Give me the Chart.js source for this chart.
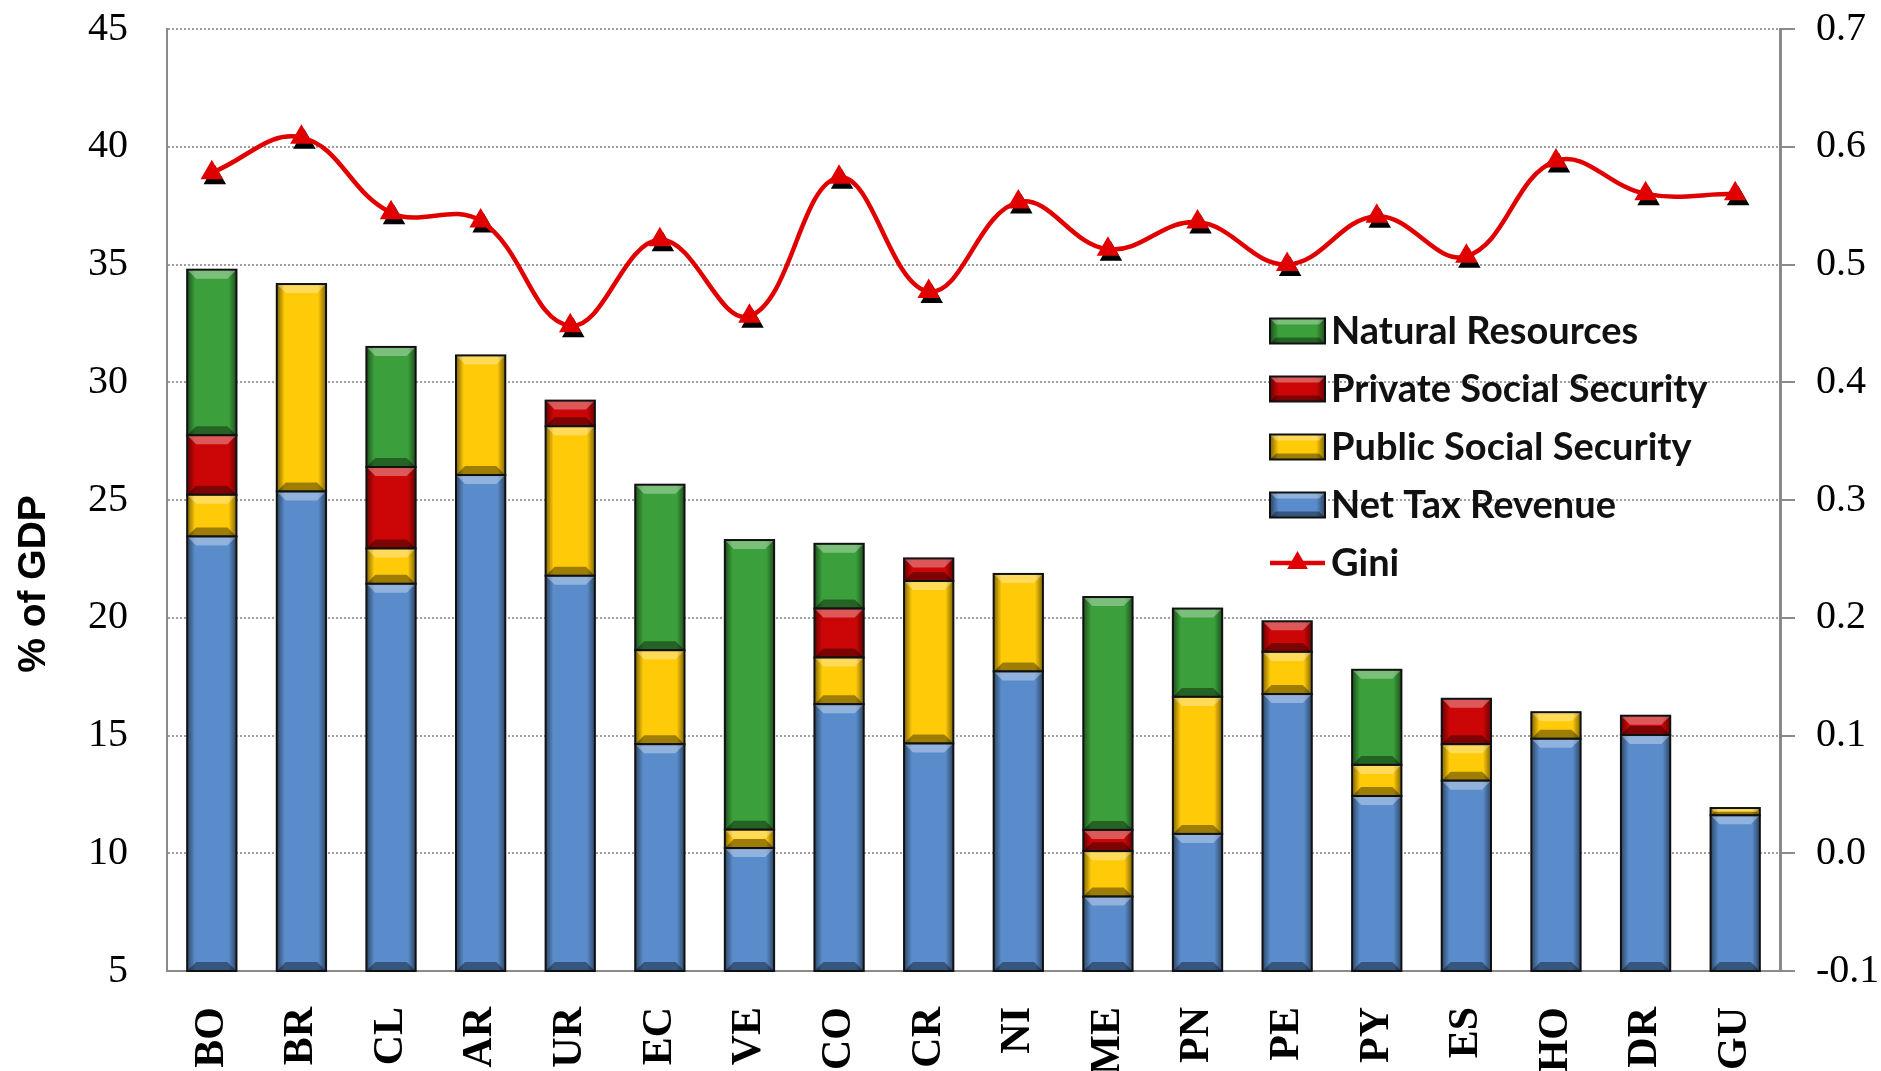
<!DOCTYPE html>
<html>
<head>
<meta charset="utf-8">
<script src="https://cdn.jsdelivr.net/npm/chart.js@4.4.1/dist/chart.umd.min.js"></script>
<style>
  html, body { margin: 0; padding: 0; background: #fff; }
  #wrap { width: 1881px; height: 1071px; position: relative; }
</style>
</head>
<body>
<div id="wrap"><canvas id="c"></canvas></div>
<script>
// Country codes along the x axis
const categories = ['BO','BR','CL','AR','UR','EC','VE','CO','CR','NI','ME','PN','PE','PY','ES','HO','DR','GU'];

// Revenue components, % of GDP (stacked bottom to top)
const netTaxRevenue        = [23.45, 25.36, 21.44, 26.06, 21.78, 14.63, 10.22, 16.33, 14.66, 17.72, 8.16, 10.82, 16.76, 12.43, 13.08, 14.86, 15.02, 11.61];
const publicSocialSecurity = [1.77, 8.81, 1.50, 5.08, 6.35, 3.99, 0.78, 1.98, 6.90, 4.14, 1.93, 5.82, 1.79, 1.32, 1.55, 1.13, 0, 0.31];
const privateSocialSecurity= [2.53, 0, 3.46, 0, 1.09, 0, 0, 2.08, 0.96, 0, 0.90, 0, 1.30, 0, 1.93, 0, 0.82, 0];
const naturalResources     = [7.03, 0, 5.10, 0, 0, 7.03, 12.30, 2.75, 0, 0, 9.89, 3.75, 0, 4.04, 0, 0, 0, 0];

// Gini coefficient (right axis)
const gini = [0.578, 0.608, 0.544, 0.537, 0.448, 0.521, 0.456, 0.574, 0.477, 0.553, 0.513, 0.536, 0.500, 0.541, 0.507, 0.588, 0.560, 0.560];

const yTitle = '% of GDP';

const COLORS = {
  blue: '#5A8CCB',
  yellow: '#FFCA08',
  red: '#CC0606',
  green: '#3BA03B',
  gini: '#E00000'
};

// Beveled look for a filled rectangle: darker sides, light top edge, dark bottom edge, black outline
function bevelOverlay(ctx, l, top, w, h, b) {
  const r = l + w, bot = top + h;
  const g = ctx.createLinearGradient(l, 0, r, 0);
  g.addColorStop(0, 'rgba(0,0,0,0.50)');
  g.addColorStop(0.16, 'rgba(0,0,0,0)');
  g.addColorStop(0.84, 'rgba(0,0,0,0)');
  g.addColorStop(1, 'rgba(0,0,0,0.50)');
  ctx.fillStyle = g;
  ctx.fillRect(l, top, w, h);
  ctx.fillStyle = 'rgba(255,255,255,0.33)';
  ctx.beginPath();
  ctx.moveTo(l, top); ctx.lineTo(r, top); ctx.lineTo(r - b, top + b); ctx.lineTo(l + b, top + b);
  ctx.closePath(); ctx.fill();
  ctx.fillStyle = 'rgba(0,0,0,0.38)';
  ctx.beginPath();
  ctx.moveTo(l, bot); ctx.lineTo(r, bot); ctx.lineTo(r - b, bot - b); ctx.lineTo(l + b, bot - b);
  ctx.closePath(); ctx.fill();
  ctx.lineWidth = 2;
  ctx.strokeStyle = '#111';
  ctx.strokeRect(l, top, w, h);
}

function trianglePath(ctx, x, y, rad) {
  ctx.beginPath();
  for (let k = 0; k < 3; k++) {
    const a = k * 2 * Math.PI / 3;
    const px = x + Math.sin(a) * rad, py = y - Math.cos(a) * rad;
    if (k === 0) ctx.moveTo(px, py); else ctx.lineTo(px, py);
  }
  ctx.closePath();
}

const MARKER_R = 13;

const bevelPlugin = {
  id: 'bevelBars',
  afterDatasetDraw(chart, args) {
    const ds = chart.data.datasets[args.index];
    if (ds.type === 'line') return;
    const ctx = chart.ctx, area = chart.chartArea;
    ctx.save();
    args.meta.data.forEach((bar, i) => {
      if (!ds.data[i]) return;
      const p = bar.getProps(['x', 'y', 'base', 'width'], true);
      const top = Math.max(Math.min(p.y, p.base), area.top);
      const bot = Math.min(Math.max(p.y, p.base), area.bottom);
      const h = bot - top;
      if (h < 0.5) return;
      const b = Math.min(9, h / 2, p.width / 4);
      bevelOverlay(ctx, p.x - p.width / 2, top, p.width, h, b);
    });
    ctx.restore();
  },
  beforeDatasetDraw(chart, args) {
    const ds = chart.data.datasets[args.index];
    if (ds.type !== 'line') return;
    // dark drop shadow under each triangle marker
    const ctx = chart.ctx;
    ctx.save();
    ctx.fillStyle = '#000';
    args.meta.data.forEach(pt => {
      trianglePath(ctx, pt.x + 3, pt.y + 5, MARKER_R);
      ctx.fill();
    });
    ctx.restore();
  }
};

const legendPlugin = {
  id: 'insideLegend',
  afterDraw(chart) {
    const ctx = chart.ctx;
    const items = [3, 2, 1, 0, 4].map(i => chart.data.datasets[i]);
    const boxL = 1270, boxW = 55, boxH = 25, textX = 1331;
    const rows = [331, 389, 447, 505, 563];
    ctx.save();
    ctx.font = 'bold 38px Lato';
    ctx.textBaseline = 'middle';
    ctx.textAlign = 'left';
    items.forEach((ds, k) => {
      const cy = rows[k];
      if (ds.type === 'line') {
        ctx.strokeStyle = ds.borderColor;
        ctx.lineWidth = 4.5;
        ctx.beginPath(); ctx.moveTo(boxL, cy); ctx.lineTo(boxL + boxW, cy); ctx.stroke();
        ctx.fillStyle = ds.pointBackgroundColor;
        trianglePath(ctx, boxL + boxW / 2, cy, 12);
        ctx.fill();
      } else {
        ctx.fillStyle = ds.backgroundColor;
        ctx.fillRect(boxL, cy - boxH / 2, boxW, boxH);
        bevelOverlay(ctx, boxL, cy - boxH / 2, boxW, boxH, 6);
      }
      ctx.fillStyle = '#111';
      ctx.fillText(ds.label, textX, cy + 1);
    });
    ctx.restore();
  }
};

const yTitlePlugin = {
  id: 'yTitle',
  afterDraw(chart) {
    const ctx = chart.ctx;
    ctx.save();
    ctx.translate(34, 584);
    ctx.rotate(-Math.PI / 2);
    ctx.font = 'bold 39px "Liberation Sans"';
    ctx.fillStyle = '#000';
    ctx.textAlign = 'center';
    ctx.textBaseline = 'middle';
    ctx.fillText(yTitle, 0, 0);
    ctx.restore();
  }
};

const barCommon = { type: 'bar', stack: 'rev', yAxisID: 'y', borderWidth: 0, barPercentage: 0.55, categoryPercentage: 1.0, order: 1 };

new Chart(document.getElementById('c'), {
  data: {
    labels: categories,
    datasets: [
      Object.assign({ label: 'Net Tax Revenue', data: netTaxRevenue, backgroundColor: COLORS.blue }, barCommon),
      Object.assign({ label: 'Public Social Security', data: publicSocialSecurity, backgroundColor: COLORS.yellow }, barCommon),
      Object.assign({ label: 'Private Social Security', data: privateSocialSecurity, backgroundColor: COLORS.red }, barCommon),
      Object.assign({ label: 'Natural Resources', data: naturalResources, backgroundColor: COLORS.green }, barCommon),
      {
        type: 'line', label: 'Gini', data: gini, yAxisID: 'y1', order: 0,
        borderColor: COLORS.gini, borderWidth: 4.5, tension: 0.4,
        pointStyle: 'triangle', pointRadius: MARKER_R, pointHoverRadius: MARKER_R,
        pointBackgroundColor: COLORS.gini, pointBorderColor: COLORS.gini, pointBorderWidth: 0
      }
    ]
  },
  options: {
    responsive: true,
    maintainAspectRatio: false,
    animation: false,
    events: [],
    layout: { padding: { top: 29, left: 0, right: 0, bottom: 0 } },
    plugins: { legend: { display: false }, tooltip: { enabled: false } },
    scales: {
      x: {
        stacked: true,
        grid: { display: false, drawTicks: false },
        border: { display: true, color: '#8a8a8a', width: 2 },
        ticks: {
          autoSkip: false, minRotation: 90, maxRotation: 90, padding: 36,
          color: '#000', font: { family: '"Liberation Serif"', size: 42, weight: 'bold' }
        },
        afterFit(scale) { scale.height = 100; }
      },
      y: {
        stacked: true, position: 'left', min: 5, max: 45,
        ticks: { stepSize: 5, padding: 4, color: '#000', font: { family: '"Liberation Serif"', size: 40 } },
        grid: { color: '#a0a0a0', lineWidth: 2, drawTicks: true, tickLength: 35, tickColor: 'rgba(0,0,0,0)' },
        border: { display: true, color: '#8a8a8a', width: 2, dash: [2, 2] },
        afterFit(scale) { scale.width = 167; }
      },
      y1: {
        position: 'right', min: -0.1, max: 0.7,
        ticks: {
          stepSize: 0.1, padding: 21, color: '#000',
          font: { family: '"Liberation Serif"', size: 40, lineHeight: 0.4 },
          callback: v => (Math.abs(v) < 1e-9 ? 0 : Number(v)).toFixed(1)
        },
        grid: { drawOnChartArea: false, drawTicks: true, tickLength: 15, color: '#8a8a8a', lineWidth: 2 },
        border: { display: true, color: '#8a8a8a', width: 3 },
        afterFit(scale) { scale.width = 101; }
      }
    }
  },
  plugins: [bevelPlugin, legendPlugin, yTitlePlugin]
});
</script>
</body>
</html>
